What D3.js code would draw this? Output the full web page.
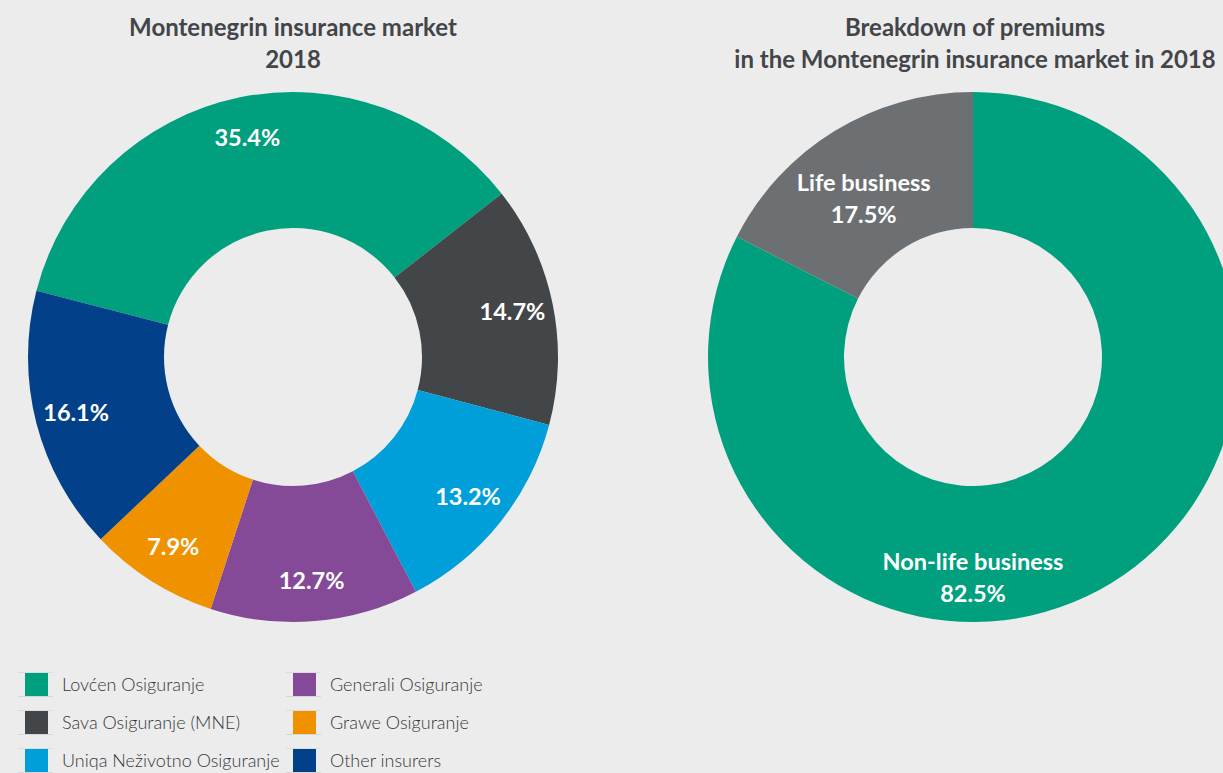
<!DOCTYPE html>
<html>
<head>
<meta charset="utf-8">
<script src="https://cdn.jsdelivr.net/npm/d3@7"></script>
<style>
  html, body { margin: 0; padding: 0; background: #ececec; }
  svg { display: block; font-family: Lato, "Open Sans", sans-serif; }
</style>
</head>
<body>
<svg id="chart" width="1223" height="773"></svg>
<script>
// market shares 2018
const insurers = ["Lovćen Osiguranje", "Sava Osiguranje (MNE)", "Uniqa Neživotno Osiguranje",
  "Generali Osiguranje", "Grawe Osiguranje", "Other insurers"];
const shares = [35.4, 14.7, 13.2, 12.7, 7.9, 16.1];

// premiums breakdown
const businessTypes = ["Non-life business", "Life business"];
const premiumShares = [82.5, 17.5];

(function () {
  const svg = d3.select("#chart");
  const deg = Math.PI / 180;

  const colors = d3.scaleOrdinal()
    .domain(insurers)
    .range(["#00a07e", "#434649", "#009fd9", "#844a97", "#f09100", "#02408a"]);

  const titleColor = "#434549";

  /**
   * Left donut
   */
  const left = { cx: 293, cy: 357, outer: 265, inner: 129 };

  const pieLeft = d3.pie()
    .value(d => d.value)
    .sort(null)
    .startAngle(-75.5 * deg)
    .endAngle(284.5 * deg);

  const leftData = insurers.map((name, i) => ({ name: name, value: shares[i] }));

  const arcLeft = d3.arc()
    .innerRadius(left.inner)
    .outerRadius(left.outer);

  const labelArc = d3.arc()
    .innerRadius(224)
    .outerRadius(224);

  const gLeft = svg.append("g")
    .attr("transform", "translate(" + left.cx + "," + left.cy + ")");

  const slices = gLeft.selectAll("g.slice")
    .data(pieLeft(leftData))
    .enter().append("g")
    .attr("class", "slice");

  slices.append("path")
    .attr("d", arcLeft)
    .attr("fill", d => colors(d.data.name));

  slices.append("text")
    .attr("transform", d => "translate(" + labelArc.centroid(d) + ")")
    .attr("text-anchor", "middle")
    .attr("dy", "0.36em")
    .style("fill", "white")
    .style("font-weight", 700)
    .style("font-size", "23.5px")
    .text(d => d.data.value.toFixed(1) + "%");

  const t1 = svg.append("text")
    .attr("x", left.cx)
    .attr("text-anchor", "middle")
    .style("fill", titleColor)
    .style("font-weight", 700)
    .style("font-size", "24px");
  t1.append("tspan").attr("x", left.cx).attr("y", 36).text("Montenegrin insurance market");
  t1.append("tspan").attr("x", left.cx).attr("y", 68).text("2018");

  /**
   * Right donut
   */
  const right = { cx: 973, cy: 357, outer: 265, inner: 129 };

  const pieRight = d3.pie()
    .value(d => d.value)
    .sort(null);

  const rightData = businessTypes.map((name, i) => ({ name: name, value: premiumShares[i] }));
  const rightColors = d3.scaleOrdinal().domain(businessTypes).range(["#00a07e", "#6d7072"]);

  const arcRight = d3.arc()
    .innerRadius(right.inner)
    .outerRadius(right.outer);

  const gRight = svg.append("g")
    .attr("transform", "translate(" + right.cx + "," + right.cy + ")");

  const rSlices = gRight.selectAll("g.slice")
    .data(pieRight(rightData))
    .enter().append("g")
    .attr("class", "slice");

  rSlices.append("path")
    .attr("d", arcRight)
    .attr("fill", d => rightColors(d.data.name));

  // label spots (angle in degrees, radius) - non-life label sits at the bottom
  const rightLabelSpots = [{ angle: 180, r: 220 }, { angle: -34.5, r: 193 }];

  rSlices.append("text")
    .attr("transform", (d, i) => {
      const s = rightLabelSpots[i];
      const a = s.angle * deg;
      const c = d3.arc().innerRadius(s.r).outerRadius(s.r).startAngle(a).endAngle(a).centroid();
      return "translate(" + c + ")";
    })
    .attr("text-anchor", "middle")
    .style("fill", "white")
    .style("font-weight", 700)
    .style("font-size", "23.5px")
    .each(function (d) {
      const t = d3.select(this);
      t.append("tspan").attr("x", 0).attr("y", -7).text(d.data.name);
      t.append("tspan").attr("x", 0).attr("y", 25).text(d.data.value.toFixed(1) + "%");
    });

  const t2 = svg.append("text")
    .attr("text-anchor", "middle")
    .style("fill", titleColor)
    .style("font-weight", 700)
    .style("font-size", "24px");
  t2.append("tspan").attr("x", 975).attr("y", 36).text("Breakdown of premiums");
  t2.append("tspan").attr("x", 975).attr("y", 68).text("in the Montenegrin insurance market in 2018");

  /**
   * Legend
   */
  const legendRectSize = 23;
  const legend = svg.selectAll(".legend")
    .data(insurers)
    .enter().append("g")
    .attr("class", "legend")
    .attr("transform", (d, i) => {
      const col = Math.floor(i / 3);
      const row = i % 3;
      return "translate(" + (25 + col * 268) + "," + (673 + row * 38) + ")";
    });

  legend.append("line")
    .attr("x1", -7).attr("x2", 28).attr("y1", -0.5).attr("y2", -0.5)
    .style("stroke", "#d8dedc").style("stroke-width", 1);
  legend.append("line")
    .attr("x1", -7).attr("x2", 28).attr("y1", legendRectSize + 0.5).attr("y2", legendRectSize + 0.5)
    .style("stroke", "#d4d6d8").style("stroke-width", 1);

  legend.append("rect")
    .attr("width", legendRectSize)
    .attr("height", legendRectSize)
    .style("fill", d => colors(d));

  legend.append("text")
    .attr("x", 37)
    .attr("y", legendRectSize / 2)
    .attr("dy", "0.36em")
    .style("fill", "#35373a")
    .style("font-weight", 300)
    .style("font-size", "18px")
    .text(d => d);
})();
</script>
</body>
</html>
